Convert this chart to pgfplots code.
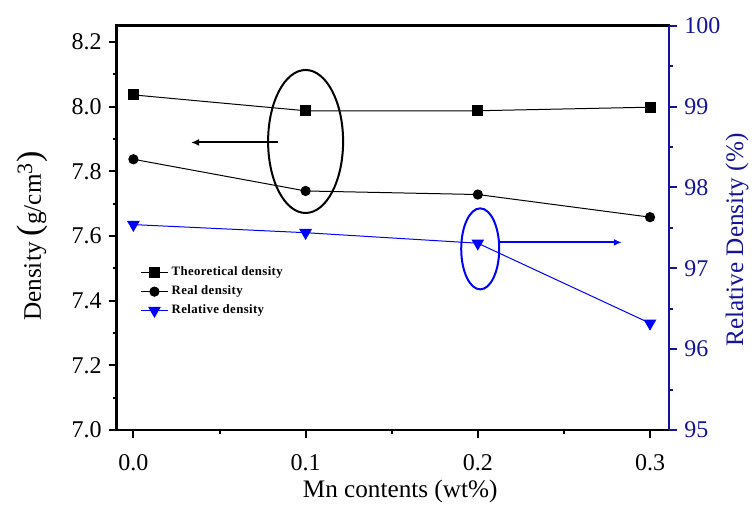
\documentclass[border=0pt]{standalone}
\usepackage{fontspec}
\setmainfont{Liberation Serif}
\newfontfamily\legfont[LetterSpace=3]{Liberation Serif}
\usepackage{pgfplots}
\pgfplotsset{compat=1.18}
\usetikzlibrary{arrows.meta}
\definecolor{axblue}{RGB}{20,20,150}
\definecolor{datblue}{RGB}{0,0,255}
\begin{document}
\begin{tikzpicture}
\path[use as bounding box] (0pt,0pt) rectangle (378pt,253.5pt);
\begin{axis}[
  at={(58.35pt,38.5pt)}, anchor=south west,
  scale only axis, width=276.3pt, height=202.15pt,
  xmin=-0.0097, xmax=0.3112, ymin=7.0, ymax=8.25,
  axis line style={line width=1.2pt},
  xtick={0,0.1,0.2,0.3}, minor x tick num=1,
  ytick={7.0,7.2,7.4,7.6,7.8,8.0,8.2}, minor y tick num=1,
  xtick pos=left, ytick pos=left,
  tick align=outside,
  major tick length=4pt, minor tick length=2pt,
  tick style={line width=1pt, black},
  /pgf/number format/assume math mode=true,
  xticklabel style={yshift=-4.5pt, /pgf/number format/.cd, fixed, fixed zerofill, precision=1},
  yticklabel style={/pgf/number format/.cd, fixed, fixed zerofill, precision=1},
  tick label style={font=\fontsize{12}{14}\selectfont},
  xlabel={Mn contents (wt\%)},
  ylabel={Density {\fontsize{17}{17}\selectfont(}g/cm\textsuperscript{\fontsize{11}{11}\selectfont 3}{\fontsize{17}{17}\selectfont)}},
  every axis x label/.style={at={(axis description cs:0.513,-0.152)}, anchor=center, font=\fontsize{12.6}{15}\selectfont},
  every axis y label/.style={at={(axis description cs:-0.152,0.48)}, rotate=90, anchor=center, font=\fontsize{12.6}{15}\selectfont},
  legend style={at={(axis description cs:0.042,0.412)}, anchor=north west, draw=none, fill=none,
     inner sep=0pt, font=\legfont\bfseries\fontsize{6.4}{8}\selectfont, row sep=0.5pt,
     nodes={inner sep=1.5pt}},
  legend cell align=left,
  legend image code/.code={\draw[mark repeat=2,mark phase=2,#1] plot coordinates {(0cm,0cm) (0.24cm,0cm) (0.48cm,0cm)};},
]
\addplot[black, line width=0.5pt, mark=square*, mark size=2.5pt] coordinates {(0,8.036) (0.1,7.987) (0.2,7.987) (0.3,7.998)};
\addlegendentry{Theoretical density}
\addplot[black, line width=0.5pt, mark=*, mark size=2.3pt] coordinates {(0,7.837) (0.1,7.739) (0.2,7.728) (0.3,7.658)};
\addlegendentry{Real density}
\addlegendimage{datblue, line width=0.5pt, mark=triangle*, mark size=3.2pt, mark options={rotate=180}}
\addlegendentry{Relative density}
\draw[line width=1pt] (axis cs:0.1,7.892) ellipse [x radius=18.75pt, y radius=35.75pt];
\draw[line width=1pt, -{Latex[length=4pt,width=3.5pt]}] (axis cs:0.0839,7.889) -- (axis cs:0.0335,7.889);
\end{axis}
\begin{axis}[
  at={(58.35pt,38.5pt)}, anchor=south west,
  scale only axis, width=276.3pt, height=202.15pt,
  xmin=-0.0097, xmax=0.3112, ymin=95, ymax=100,
  axis y line*=right, axis x line=none,
  y axis line style={axblue, line width=1.2pt},
  ytick={95,96,97,98,99,100}, minor y tick num=1,
  tick align=outside,
  major tick length=4pt, minor tick length=2pt,
  tick style={line width=1pt, axblue},
  /pgf/number format/assume math mode=true,
  yticklabel style={axblue, font=\fontsize{12}{14}\selectfont},
  ylabel={Relative Density (\%)},
  every axis y label/.style={at={(axis description cs:1.1225,0.47)}, rotate=90, anchor=center, axblue, font=\fontsize{12.6}{15}\selectfont},
]
\addplot[datblue, line width=0.5pt, mark=triangle*, mark size=3.2pt, mark options={rotate=180}] coordinates {(0,97.54) (0.1,97.44) (0.2,97.31) (0.3,96.32)};
\draw[datblue, line width=1pt] (axis cs:0.2014,97.24) ellipse [x radius=9.5pt, y radius=20.25pt];
\draw[datblue, line width=1pt, -{Latex[length=4pt,width=3.5pt]}] (axis cs:0.2124,97.32) -- (axis cs:0.2836,97.32);
\end{axis}
\end{tikzpicture}
\end{document}
